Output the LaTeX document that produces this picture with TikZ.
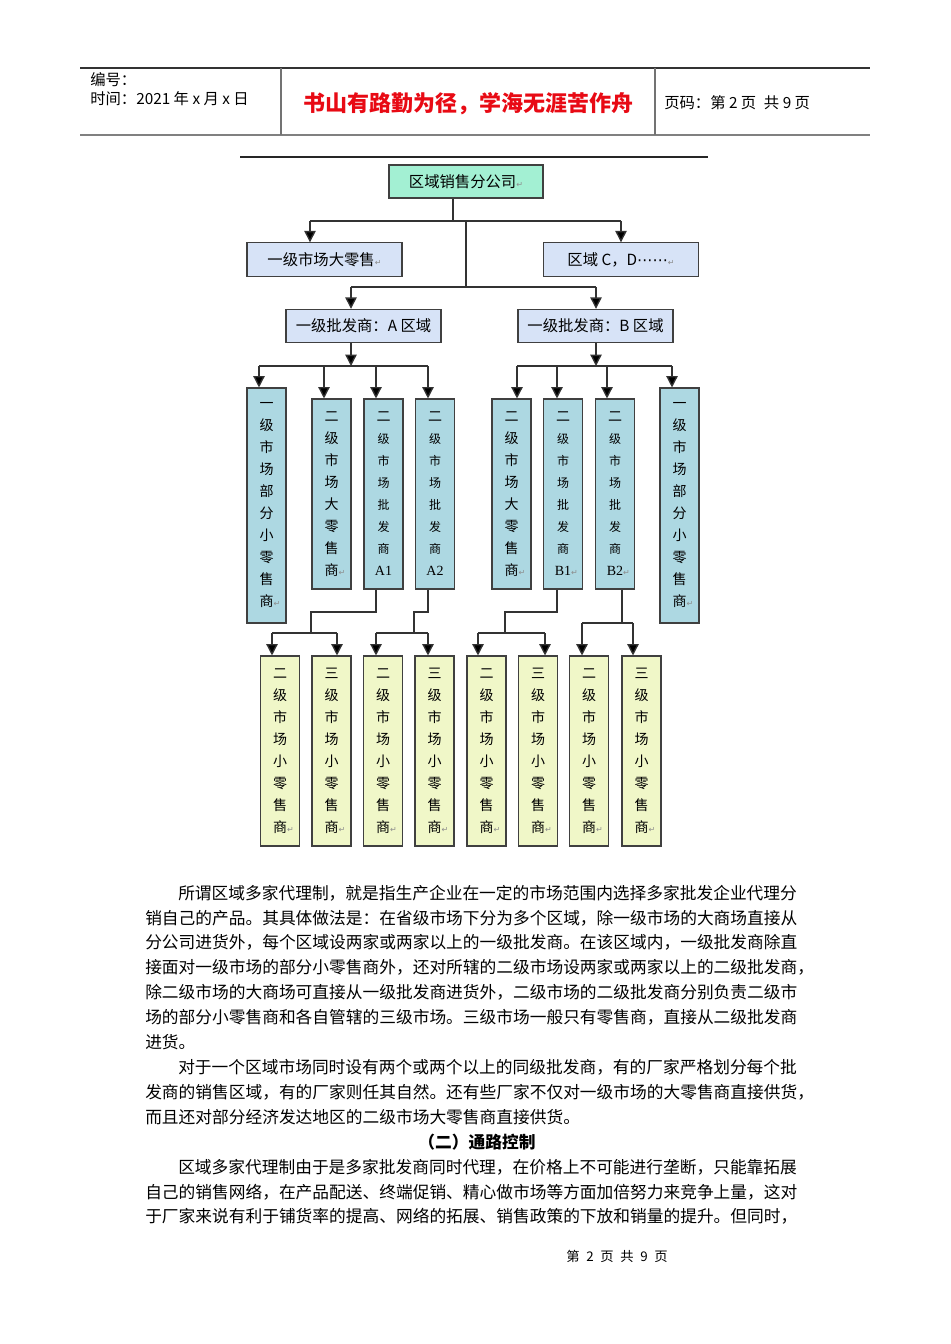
\documentclass[tikz,border=0pt]{standalone}
\usepackage{fontspec}
\setmainfont{Noto Sans CJK SC}
\newfontfamily\symfont{DejaVu Sans}
\newfontfamily\latinserif{Liberation Serif}
\usetikzlibrary{arrows.meta,calc}

\definecolor{hqgreen}{RGB}{163,240,211}
\definecolor{regblue}{RGB}{215,227,247}
\definecolor{colblue}{RGB}{173,216,226}
\definecolor{leafyellow}{RGB}{240,247,200}
\definecolor{mottored}{RGB}{232,10,20}

\newcommand\retmark{{\symfont\color{black!45}\fontsize{6pt}{6pt}\selectfont ↵}}
\newcommand\sm[1]{{\fontsize{9pt}{16.5pt}\selectfont #1}}

\tikzset{
  link/.style={draw=black!80, line width=1pt},
  arr/.style={link, -{Triangle[length=8.5pt,width=8.5pt,fill=black]}},
  hqbox/.style={draw=black!75, line width=0.8pt, fill=hqgreen, minimum width=115.5pt,
    minimum height=24.75pt, inner sep=0pt, font=\fontsize{11.5pt}{13pt}\selectfont},
  regbox/.style={hqbox, fill=regblue, minimum width=116.25pt, minimum height=25pt},
  colbox/.style={draw=black!75, line width=0.8pt, fill=colblue, minimum width=29.25pt,
    minimum height=142.5pt, inner sep=0pt, align=center, font=\fontsize{10.5pt}{16.5pt}\selectfont},
  tallbox/.style={colbox, minimum height=176.25pt},
  leafbox/.style={colbox, fill=leafyellow},
  body/.style={anchor=west, inner sep=0pt, font=\fontsize{12.54pt}{18.75pt}\selectfont},
  head/.style={anchor=west, inner sep=0pt, font=\fontsize{11.5pt}{13pt}\selectfont}
}

\begin{document}
\begin{tikzpicture}[x=0.75pt,y=-0.75pt]
\fill[white] (0,0) rectangle (950,1344);
\useasboundingbox (0,0) rectangle (950,1344);

% page header
\draw[black!80, line width=0.8pt] (80,68) -- (870,68);
\draw[black!50, line width=1.5pt] (80,135) -- (870,135);
\draw[black!55, line width=0.8pt] (281,68) -- (281,135);
\draw[black!55, line width=0.8pt] (655,68) -- (655,135);
\node[head] (serial) at (90,80) {编号：};
\node[head] (date) at (90,99) {时间：2021 年 x 月 x 日};
\node[inner sep=0pt, text=mottored, font=\fontsize{16.5pt}{18pt}\selectfont\bfseries] (motto) at (468,104) {书山有路勤为径，学海无涯苦作舟};
\node[head] (pageno) at (664,103) {页码：第 2 页\enspace 共 9 页};

\draw[black!85, line width=1.6pt] (240,157) -- (708,157);

% boxes
\node[hqbox] (hq) at (466,181.5) {区域销售分公司\retmark};
\node[regbox] (big) at (324.5,259.5) {一级市场大零售\retmark};
\node[regbox] (cd) at (621,259.5) {区域 C，D{\symfont ⋯⋯}\retmark};
\node[regbox] (wa) at (363.5,326) {一级批发商：A 区域};
\node[regbox] (wb) at (595.5,326) {一级批发商：B 区域};

\node[tallbox] (a1r) at (266.5,505.5) {一\\级\\市\\场\\部\\分\\小\\零\\售\\商\rlap{\retmark}};
\node[colbox] (a2r) at (331.5,494) {二\\级\\市\\场\\大\\零\\售\\商\rlap{\retmark}};
\node[colbox] (wa1) at (383.5,494) {二\\\sm{级}\\\sm{市}\\\sm{场}\\\sm{批}\\\sm{发}\\\sm{商}\\{\latinserif A1}};
\node[colbox] (wa2) at (435,494) {二\\\sm{级}\\\sm{市}\\\sm{场}\\\sm{批}\\\sm{发}\\\sm{商}\\{\latinserif A2}};
\node[colbox] (b2r) at (511.5,494) {二\\级\\市\\场\\大\\零\\售\\商\rlap{\retmark}};
\node[colbox] (wb1) at (563,494) {二\\\sm{级}\\\sm{市}\\\sm{场}\\\sm{批}\\\sm{发}\\\sm{商}\\{\latinserif B1}\rlap{\retmark}};
\node[colbox] (wb2) at (615,494) {二\\\sm{级}\\\sm{市}\\\sm{场}\\\sm{批}\\\sm{发}\\\sm{商}\\{\latinserif B2}\rlap{\retmark}};
\node[tallbox] (b1r) at (679.5,505.5) {一\\级\\市\\场\\部\\分\\小\\零\\售\\商\rlap{\retmark}};

\foreach \n/\x/\d in {s1/280/二, s2/331.5/三, s3/383/二, s4/434.5/三, s5/486.5/二, s6/538/三, s7/589/二, s8/641.5/三}
  \node[leafbox] (\n) at (\x,751) {\d\\级\\市\\场\\小\\零\\售\\商\rlap{\retmark}};

% arrow targets on the columns
\foreach \c/\dx in {a1r/-7.5, a2r/-7.5, wa1/-7.5, wa2/-7, b2r/5.5, wb1/-6, wb2/-8, b1r/-7.5,
  s1/-8, s2/5.5, s3/-7, s4/-6.5, s5/-8.5, s6/7, s7/-7, s8/-8.5}
  \coordinate (t\c) at ($(\c.north)+(\dx,0)$);

% connectors
\coordinate (j0) at (453,221);
\coordinate (j1) at (466,221);
\coordinate (bus1l) at (310,221);
\coordinate (bus1r) at (621,221);
\coordinate (bus2l) at (351,287);
\coordinate (bus2r) at (596,287);
\coordinate (busa) at (351,366);
\coordinate (busb) at (596,366);
\coordinate (elbow) at (0,612);
\coordinate (ka) at (311,633);
\coordinate (kb) at (414,633);
\coordinate (kc) at (505,633);
\coordinate (kd) at (622,623);

\draw[link] (j0 |- hq.south) -- (j0);
\draw[link] (bus1l) -- (bus1r);
\draw[arr] (bus1l) -- (bus1l |- big.north);
\draw[arr] (bus1r) -- (bus1r |- cd.north);
\draw[link] (j1) -- (j1 |- bus2l);
\draw[link] (bus2l) -- (bus2r);
\draw[arr] (bus2l) -- (bus2l |- wa.north);
\draw[arr] (bus2r) -- (bus2r |- wb.north);

\draw[arr] (busa |- wa.south) -- (busa);
\draw[arr] (busb |- wb.south) -- (busb);
\draw[link] (ta1r |- busa) -- (twa2 |- busa);
\draw[link] (tb2r |- busb) -- (tb1r |- busb);
\foreach \c in {a1r,a2r,wa1,wa2}
  \draw[arr] (t\c |- busa) -- (t\c);
\foreach \c in {b2r,wb1,wb2,b1r}
  \draw[arr] (t\c |- busb) -- (t\c);

\draw[link] (twa1 |- wa1.south) -- (twa1 |- elbow) -| (ka);
\draw[link] (twa2 |- wa2.south) -- (twa2 |- elbow) -| (kb);
\draw[link] (twb1 |- wb1.south) -- (twb1 |- elbow) -| (kc);
\draw[link] (kd |- wb2.south) -- (kd);
\draw[link] (ts1 |- ka) -- (ts2 |- ka);
\draw[link] (ts3 |- kb) -- (ts4 |- kb);
\draw[link] (ts5 |- kc) -- (ts6 |- kc);
\draw[link] (ts7 |- kd) -- (ts8 |- kd);
\foreach \c/\k in {s1/ka, s2/ka, s3/kb, s4/kb, s5/kc, s6/kc, s7/kd, s8/kd}
  \draw[arr] (t\c |- \k) -- (t\c);

% text below
\foreach \x/\n/\t in {
  178/0/所谓区域多家代理制，就是指生产企业在一定的市场范围内选择多家批发企业代理分,
  145/1/销自己的产品。其具体做法是：在省级市场下分为多个区域，除一级市场的大商场直接从,
  145/2/分公司进货外，每个区域设两家或两家以上的一级批发商。在该区域内，一级批发商除直,
  145/3/接面对一级市场的部分小零售商外，还对所辖的二级市场设两家或两家以上的二级批发商，,
  145/4/除二级市场的大商场可直接从一级批发商进货外，二级市场的二级批发商分别负责二级市,
  145/5/场的部分小零售商和各自管辖的三级市场。三级市场一般只有零售商，直接从二级批发商,
  145/6/进货。,
  178/7/对于一个区域市场同时设有两个或两个以上的同级批发商，有的厂家严格划分每个批,
  145/8/发商的销售区域，有的厂家则任其自然。还有些厂家不仅对一级市场的大零售商直接供货，,
  145/9/而且还对部分经济发达地区的二级市场大零售商直接供货。,
  178/11/区域多家代理制由于是多家批发商同时代理，在价格上不可能进行垄断，只能靠拓展,
  145/12/自己的销售网络，在产品配送、终端促销、精心做市场等方面加倍努力来竞争上量，这对,
  145/13/于厂家来说有利于铺货率的提高、网络的拓展、销售政策的下放和销量的提升。但同时，}
  \node[body] (ln\n) at (\x,{893+24.9*\n}) {\t};
\node[body, anchor=center, font=\fontsize{12.54pt}{18.75pt}\selectfont\bfseries] (title) at (477,1142) {（二）通路控制};

\node[inner sep=0pt, font=\fontsize{10pt}{12pt}\selectfont] (foot) at (617,1256) {第\enspace 2\enspace 页\enspace 共\enspace 9\enspace 页};
\end{tikzpicture}
\end{document}
